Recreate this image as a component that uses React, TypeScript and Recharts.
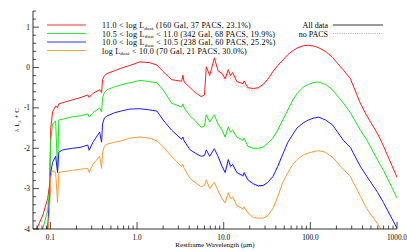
import React from 'react';
import { LineChart, Line, XAxis, YAxis } from 'recharts';

// Restframe wavelength grid (micron)
const WAVELENGTH = [
  0.068, 0.082, 0.093, 0.098, 0.101, 0.106, 0.115, 0.121, 0.125, 0.139,
  0.18, 0.22, 0.27, 0.28, 0.31, 0.37, 0.39, 0.40, 0.42, 0.45,
  0.55, 0.65, 0.82, 1.08, 1.4, 1.7, 2.0, 2.5, 3.27, 3.38,
  3.5, 4.1, 4.7, 5.5, 6.0, 6.3, 6.9, 7.8, 8.6, 9.6,
  10.4, 11.3, 12.0, 12.7, 14.2, 16.7, 17.2, 19, 22, 25,
  28.5, 32, 37, 42, 48, 55, 63, 70, 83, 95,
  110, 125, 150, 180, 240, 290, 380, 450, 600, 700,
  1000,
];

const RED = [
  -4.05, -3.65, -3.25, -2.9, -1.5, -1.1, -0.95, -1.0, -0.9, -0.87,
  -0.8, -0.75, -0.68, -0.74, -0.64, -0.55, -0.62, -0.3, -0.2, -0.15,
  -0.08, -0.02, 0.05, 0.14, 0.12, 0.06, -0.1, -0.3, -0.34, -0.19,
  -0.36, -0.5, -0.62, -0.72, -0.68, 0.02, -0.2, 0.24, -0.08, -0.15,
  -0.28, -0.05, -0.2, -0.12, -0.35, -0.4, -0.33, -0.5, -0.52, -0.5,
  -0.42, -0.3, -0.1, 0.05, 0.18, 0.32, 0.42, 0.48, 0.54, 0.55,
  0.53, 0.49, 0.4, 0.25, -0.06, -0.28, -0.9, -1.2, -1.65, -1.95,
  -2.72,
];

const GREEN = [
  -4.4, -3.98, -3.55, -3.0, -1.8, -1.4, -1.32, -2.6, -1.3, -1.28,
  -1.22, -1.2, -1.15, -1.22, -1.12, -1.0, -1.1, -0.75, -0.62, -0.55,
  -0.48, -0.43, -0.38, -0.32, -0.35, -0.38, -0.55, -0.88, -0.98, -0.9,
  -1.0, -1.2, -1.32, -1.48, -1.45, -1.17, -1.35, -1.17, -1.4, -1.55,
  -1.72, -1.47, -1.6, -1.55, -1.72, -1.8, -1.75, -1.95, -2.0, -2.0,
  -1.97, -1.88, -1.75, -1.55, -1.3, -1.05, -0.8, -0.65, -0.48, -0.42,
  -0.37, -0.36, -0.42, -0.55, -0.88, -1.12, -1.56, -1.8, -2.3, -2.55,
  -3.23,
];

const BLUE = [
  -4.5, -4.3, -3.98, -3.2, -2.6, -2.35, -2.2, -2.6, -2.1, -2.04,
  -2.0, -1.98, -1.92, -2.05, -1.85, -1.6, -1.85, -1.4, -1.25, -1.2,
  -1.12, -1.08, -1.03, -1.02, -1.05, -1.08, -1.3, -1.55, -1.78, -1.72,
  -1.82, -2.04, -2.12, -2.2, -2.18, -2.04, -2.2, -2.01, -2.2, -2.45,
  -2.6, -2.28, -2.45, -2.4, -2.6, -2.68, -2.6, -2.78, -2.88, -2.93,
  -2.92, -2.85, -2.7, -2.45, -2.15, -1.85, -1.65, -1.5, -1.37, -1.3,
  -1.25, -1.23, -1.3, -1.42, -1.8, -1.98, -2.46, -2.7, -3.1, -3.35,
  -3.98,
];

const ORANGE = [
  -4.6, -4.5, -4.3, -3.5, -2.7, -2.55, -2.6, -3.35, -2.6, -2.58,
  -2.55, -2.52, -2.5, -2.6, -2.4, -2.2, -2.5, -2.1, -1.95, -1.9,
  -1.85, -1.82, -1.75, -1.72, -1.75, -1.82, -1.96, -2.2, -2.45, -2.4,
  -2.5, -2.75, -2.85, -2.95, -2.92, -2.78, -3.0, -2.84, -3.05, -3.25,
  -3.35, -3.1, -3.25, -3.2, -3.42, -3.5, -3.45, -3.6, -3.72, -3.73,
  -3.73, -3.68, -3.5, -3.2, -2.85, -2.6, -2.4, -2.28, -2.17, -2.12,
  -2.08, -2.06, -2.1, -2.22, -2.52, -2.7, -3.2, -3.5, -3.88, -4.1,
  -4.7,
];

// "no PACS" fits (dotted), only where they differ visibly (8.6 - 48 micron)
const NOPACS_WAVELENGTH = [8.6, 9.6, 10.4, 11.3, 12.0, 12.7, 14.2, 16.7, 17.2, 19, 22, 25, 28.5, 32, 37, 42, 48];
const RED_NOPACS = [-0.1, -0.18, -0.32, -0.12, -0.28, -0.22, -0.45, -0.48, -0.42, -0.55, -0.57, -0.53, -0.44, -0.31, -0.11, 0.04, 0.18];
const GREEN_NOPACS = [-1.42, -1.57, -1.74, -1.5, -1.63, -1.58, -1.75, -1.83, -1.78, -1.97, -2.02, -2.02, -1.99, -1.9, -1.76, -1.56, -1.3];
const BLUE_NOPACS = [-2.22, -2.47, -2.62, -2.31, -2.48, -2.43, -2.63, -2.71, -2.64, -2.8, -2.9, -2.95, -2.94, -2.86, -2.71, -2.46, -2.15];
const ORANGE_NOPACS = [-3.07, -3.27, -3.37, -3.13, -3.28, -3.23, -3.45, -3.53, -3.48, -3.6, -3.66, -3.67, -3.68, -3.64, -3.48, -3.2, -2.85];

const X_TICKS = [
  0.07, 0.08, 0.09, 0.1, 0.2, 0.3, 0.4, 0.5, 0.6, 0.7, 0.8, 0.9,
  1, 2, 3, 4, 5, 6, 7, 8, 9,
  10, 20, 30, 40, 50, 60, 70, 80, 90,
  100, 200, 300, 400, 500, 600, 700, 800, 900, 1000,
];
const X_MAJOR = [0.1, 1, 10, 100, 1000];
const X_LABELS = ['0.1', '1.0', '10.0', '100.0', '1000.0'];

const Y_TICKS = [
  -4, -3.8, -3.6, -3.4, -3.2, -3, -2.8, -2.6, -2.4, -2.2, -2, -1.8, -1.6, -1.4, -1.2,
  -1, -0.8, -0.6, -0.4, -0.2, 0, 0.2, 0.4, 0.6, 0.8, 1, 1.2, 1.4,
];
const Y_MAJOR = [-4, -3, -2, -1, 0, 1];
const Y_LABELS = ['-4', '-3', '-2', '-1', '0', '1'];

const SERIES_KEYS = ['red', 'green', 'blue', 'orange'];
const SERIES_COLORS = ['#ff1a1a', '#19e619', '#1a1aff', '#ff9a33'];
const SERIES_FAINT = ['#ff9999', '#99f599', '#9999ff', '#ffcc99'];
const LEGEND_PRE = ['11.0 < log L', '10.5 < log L', '10.0 < log L', 'log L'];
const LEGEND_POST = [
  ' (160 Gal, 37 PACS, 23.1%)',
  ' < 11.0 (342 Gal, 68 PACS, 19.9%)',
  ' < 10.5 (238 Gal, 60 PACS, 25.2%)',
  ' < 10.0 (70 Gal, 21 PACS, 30.0%)',
];

const MAIN = [RED, GREEN, BLUE, ORANGE];
const NOPACS = [RED_NOPACS, GREEN_NOPACS, BLUE_NOPACS, ORANGE_NOPACS];

const rows = WAVELENGTH.map((wl, i) => {
  const row: Record<string, number | null> = { wl };
  SERIES_KEYS.forEach((k, s) => {
    row[k] = MAIN[s][i];
    const j = NOPACS_WAVELENGTH.indexOf(wl);
    row[k + 'N'] = j >= 0 ? NOPACS[s][j] : null;
  });
  return row;
});

const FONT = '"Liberation Serif", "DejaVu Serif", serif';
const TICK_COLOR = '#000';

const isMajor = (arr: number[], v: number) => arr.some((m) => Math.abs(m - v) < 1e-9);

const XTickBottom = (p: any) => {
  const { x, y, payload } = p;
  const v = payload.value;
  const major = isMajor(X_MAJOR, v);
  const idx = X_MAJOR.findIndex((m) => Math.abs(m - v) < 1e-9);
  return (
    <g>
      <line x1={x} x2={x} y1={y} y2={y - (major ? 7 : 3.5)} stroke={TICK_COLOR} strokeWidth={0.7} />
      {major && (
        <text x={x} y={y + 11} textAnchor="middle" fontSize={7.3} fontFamily={FONT} fill="#000">
          {X_LABELS[idx]}
        </text>
      )}
    </g>
  );
};

const XTickTop = (p: any) => {
  const { x, y, payload } = p;
  const major = isMajor(X_MAJOR, payload.value);
  return <line x1={x} x2={x} y1={y} y2={y + (major ? 7 : 3.5)} stroke={TICK_COLOR} strokeWidth={0.7} />;
};

const YTickLeft = (p: any) => {
  const { x, y, payload } = p;
  const v = payload.value;
  const major = isMajor(Y_MAJOR, v);
  const idx = Y_MAJOR.findIndex((m) => Math.abs(m - v) < 1e-9);
  return (
    <g>
      <line x1={x} x2={x + (major ? 6 : 3)} y1={y} y2={y} stroke={TICK_COLOR} strokeWidth={0.7} />
      {major && (
        <text x={x - 3} y={y + 2.5} textAnchor="end" fontSize={7.3} fontFamily={FONT} fill="#000">
          {Y_LABELS[idx]}
        </text>
      )}
    </g>
  );
};

const YTickRight = (p: any) => {
  const { x, y, payload } = p;
  const major = isMajor(Y_MAJOR, payload.value);
  return <line x1={x} x2={x - (major ? 6 : 3)} y1={y} y2={y} stroke={TICK_COLOR} strokeWidth={0.7} />;
};

const LEGEND_Y = [25, 33.5, 42, 50.5];

export default function App() {
  return (
    <div style={{ position: 'absolute', left: 0, top: 0, width: 407, height: 252, background: '#fff' }}>
      <LineChart width={407} height={252} data={rows} margin={{ top: 11, right: 10, bottom: 0, left: 0 }}>
        <XAxis
          xAxisId="b"
          dataKey="wl"
          type="number"
          scale="log"
          domain={[0.063, 1000]}
          allowDataOverflow
          ticks={X_TICKS}
          interval={0}
          tick={<XTickBottom />}
          tickLine={false}
          tickSize={0}
          tickMargin={0}
          height={23}
          axisLine={{ stroke: '#000', strokeWidth: 0.8 }}
        />
        <XAxis
          xAxisId="t"
          orientation="top"
          dataKey="wl"
          type="number"
          scale="log"
          domain={[0.063, 1000]}
          allowDataOverflow
          ticks={X_TICKS}
          interval={0}
          tick={<XTickTop />}
          tickLine={false}
          tickSize={0}
          tickMargin={0}
          height={0}
          axisLine={{ stroke: '#000', strokeWidth: 0.8 }}
        />
        <YAxis
          yAxisId="l"
          type="number"
          domain={[-4, 1.4]}
          allowDataOverflow
          ticks={Y_TICKS}
          interval={0}
          tick={<YTickLeft />}
          tickLine={false}
          tickSize={0}
          tickMargin={0}
          width={33}
          axisLine={{ stroke: '#000', strokeWidth: 0.8 }}
        />
        <YAxis
          yAxisId="r"
          orientation="right"
          type="number"
          domain={[-4, 1.4]}
          allowDataOverflow
          ticks={Y_TICKS}
          interval={0}
          tick={<YTickRight />}
          tickLine={false}
          tickSize={0}
          tickMargin={0}
          width={0}
          axisLine={{ stroke: '#000', strokeWidth: 0.8 }}
        />
        {SERIES_KEYS.map((k, s) => (
          <Line
            key={k + 'N'}
            xAxisId="b"
            yAxisId="l"
            dataKey={k + 'N'}
            stroke={SERIES_FAINT[s]}
            strokeWidth={0.9}
            strokeDasharray="1 1.2"
            dot={false}
            activeDot={false}
            connectNulls={false}
            type="linear"
            isAnimationActive={false}
          />
        ))}
        {SERIES_KEYS.map((k, s) => (
          <Line
            key={k}
            xAxisId="b"
            yAxisId="l"
            dataKey={k}
            stroke={SERIES_COLORS[s]}
            strokeWidth={1}
            dot={false}
            activeDot={false}
            type="linear"
            isAnimationActive={false}
          />
        ))}
      </LineChart>
      <svg
        width={407}
        height={252}
        style={{ position: 'absolute', left: 0, top: 0, pointerEvents: 'none' }}
        fontFamily={FONT}
      >
        {SERIES_KEYS.map((k, s) => (
          <g key={k}>
            <line x1={47} x2={86} y1={LEGEND_Y[s]} y2={LEGEND_Y[s]} stroke={SERIES_COLORS[s]} strokeWidth={0.9} />
            <text x={102} y={LEGEND_Y[s] + 3} fontSize={8} letterSpacing={0.25} fill="#000">
              {LEGEND_PRE[s]}
              <tspan fontSize={5} dy={1.5}>dust</tspan>
              <tspan dy={-1.5}>{LEGEND_POST[s]}</tspan>
            </text>
          </g>
        ))}
        <text x={328} y={28} fontSize={8} textAnchor="end" fill="#000">All data</text>
        <line x1={333} x2={383} y1={25} y2={25} stroke="#000" strokeWidth={0.8} />
        <text x={328} y={36.5} fontSize={8} textAnchor="end" fill="#000">no PACS</text>
        <line x1={333} x2={383} y1={33.5} y2={33.5} stroke="#999" strokeWidth={0.8} strokeDasharray="1 1.2" />
        <text x={215} y={247} fontSize={7} textAnchor="middle" fill="#000">
          Restframe Wavelength (μm)
        </text>
        <text x={19} y={120} fontSize={7} textAnchor="middle" fill="#000" transform="rotate(-90 19 120)">
          λ L<tspan fontSize={5} dy={1.5}>λ</tspan>
          <tspan dy={-1.5}> + C</tspan>
        </text>
      </svg>
    </div>
  );
}
